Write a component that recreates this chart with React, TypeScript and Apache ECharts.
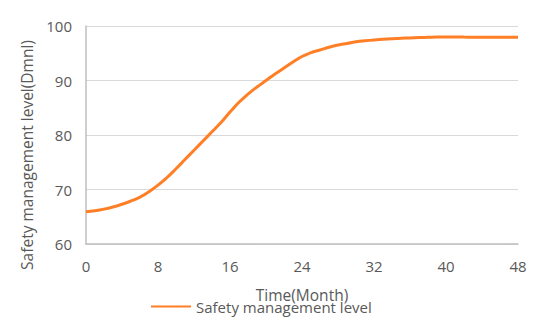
import React, { useEffect, useRef } from "react";
import * as echarts from "echarts";

const months: number[] = Array.from({ length: 49 }, (_, i) => i);
const safetyLevel: number[] = [
  65.9, 66.1, 66.4, 66.8, 67.3, 67.9, 68.6, 69.6, 70.8, 72.2,
  73.8, 75.5, 77.2, 78.9, 80.6, 82.3, 84.2, 86.0, 87.5, 88.8,
  90.0, 91.2, 92.3, 93.4, 94.4, 95.1, 95.6, 96.1, 96.5, 96.8,
  97.1, 97.3, 97.45, 97.55, 97.65, 97.75, 97.8, 97.88, 97.93, 97.98,
  98.0, 97.98, 97.96, 97.95, 97.95, 97.95, 97.95, 97.95, 97.95,
];
const seriesName = "Safety management level";
const xAxisName = "Time(Month)";
const yAxisName = "Safety management level(Dmnl)";

const FONT = "'Open Sans', 'Noto Sans', sans-serif";
const GRAY = "#595959";

export default function App() {
  const ref = useRef<HTMLDivElement>(null);
  useEffect(() => {
    document.body.style.margin = "0";
    const chart = echarts.init(ref.current!, null, { renderer: "svg" });
    chart.setOption({
      animation: false,
      backgroundColor: "#ffffff",
      textStyle: { fontFamily: FONT },
      grid: { left: 86, right: 32, top: 26, bottom: 85 },
      legend: {
        data: [seriesName],
        left: 146,
        top: 294,
        itemWidth: 40,
        itemHeight: 14,
        itemGap: 0,
        textStyle: { color: GRAY, fontSize: 15, fontFamily: FONT },
        icon: "path://M0,6 L40,6 L40,8 L0,8 Z",
      },
      xAxis: {
        type: "value",
        min: 0,
        max: 48,
        interval: 8,
        name: xAxisName,
        nameLocation: "middle",
        nameGap: 43,
        nameTextStyle: { color: GRAY, fontSize: 15.5, fontFamily: FONT },
        axisLine: { show: true, lineStyle: { color: "#BFBFBF", width: 1.5 } },
        axisTick: { show: false },
        axisLabel: { color: GRAY, fontSize: 15, margin: 14, fontFamily: FONT },
        splitLine: { show: false },
      },
      yAxis: {
        type: "value",
        min: 60,
        max: 100,
        interval: 10,
        axisLine: { show: true, lineStyle: { color: "#BFBFBF", width: 1.5 } },
        axisTick: { show: false },
        axisLabel: { color: GRAY, fontSize: 15, margin: 14, fontFamily: FONT },
        splitLine: { show: true, lineStyle: { color: "#D9D9D9", width: 1 } },
      },
      graphic: [
        {
          type: "text",
          x: 27,
          y: 155,
          rotation: Math.PI / 2,
          style: {
            text: yAxisName,
            fill: GRAY,
            font: `15.5px ${FONT}`,
            align: "center",
            verticalAlign: "middle",
          },
        },
      ],
      series: [
        {
          name: seriesName,
          type: "line",
          data: months.map((m, i) => [m, safetyLevel[i]]),
          smooth: true,
          showSymbol: false,
          symbol: "none",
          lineStyle: { color: "#FF7F27", width: 3 },
          itemStyle: { color: "#FF7F27" },
        },
      ],
    });
    return () => chart.dispose();
  }, []);
  return (
    <div
      ref={ref}
      style={{ position: "absolute", left: 0, top: 0, width: 550, height: 329 }}
    />
  );
}
